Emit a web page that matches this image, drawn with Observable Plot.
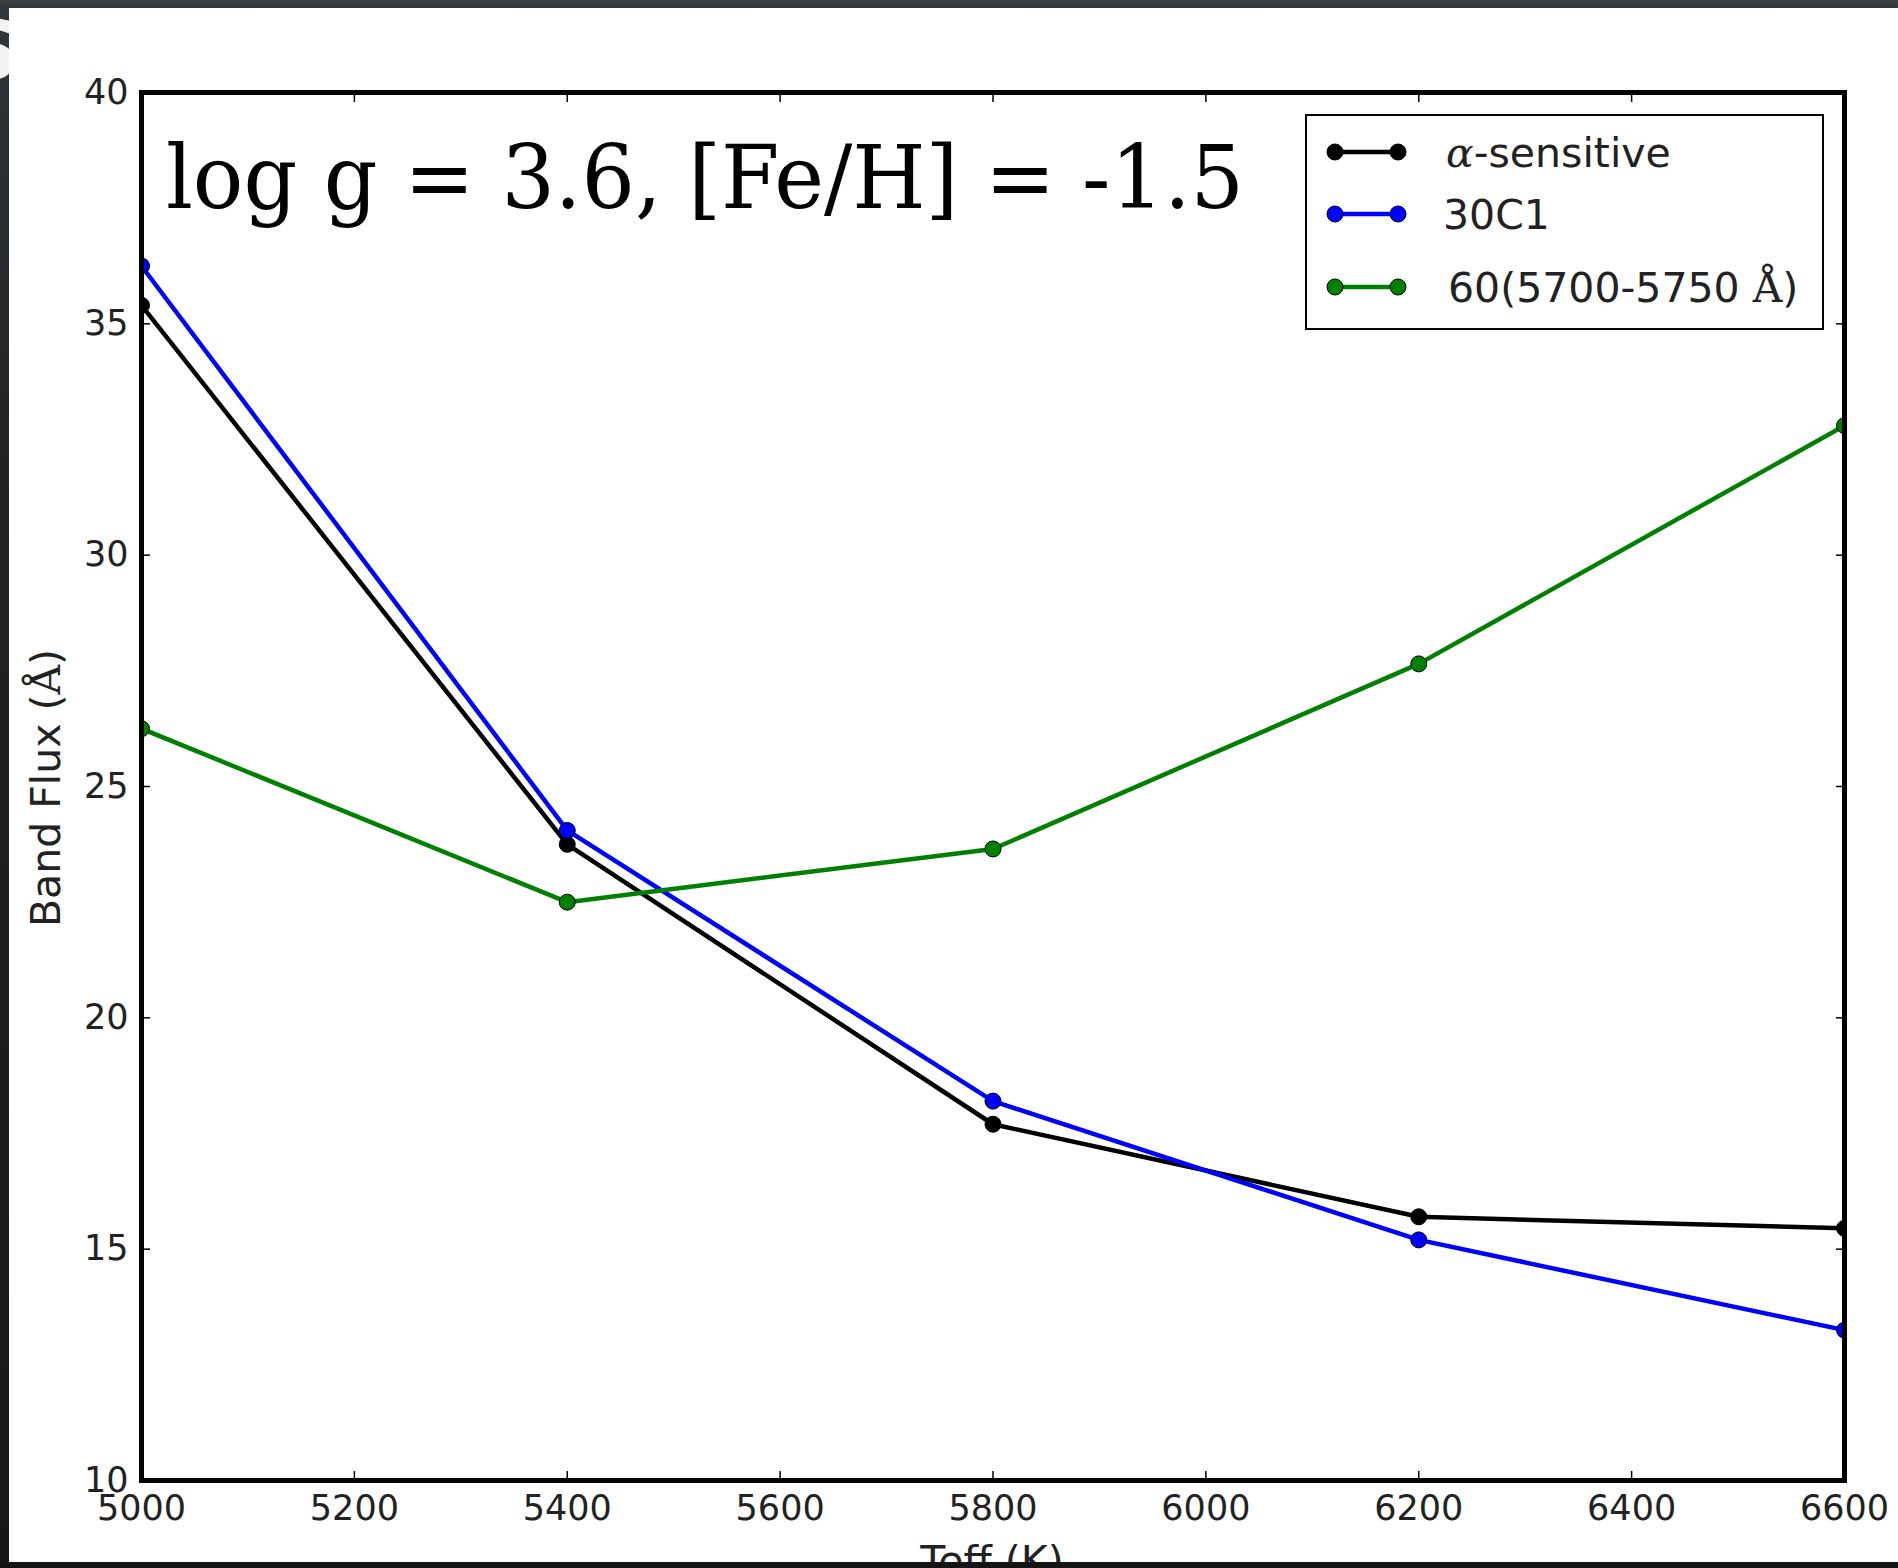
<!DOCTYPE html>
<html>
<head>
<meta charset="utf-8">
<script src="https://cdn.jsdelivr.net/npm/d3@7"></script>
<script src="https://cdn.jsdelivr.net/npm/@observablehq/plot@0.6"></script>
<style>
  html, body { margin: 0; padding: 0; }
  body {
    width: 1898px; height: 1568px; overflow: hidden; position: relative;
    background: linear-gradient(to bottom, #3c4347 0px, #30363a 8px, #202326 30%, #161718 100%);
  }
  #slide-mark { position: absolute; left: -40px; top: 10px; font: bold 82px "DejaVu Sans"; color: #f2f2f2; line-height: 1; }
  #panel { position: absolute; left: 9px; top: 8px; width: 1889px; height: 1554px; background: #ffffff; }
  #chart { position: absolute; left: 0; top: 0; }
  #bottom-band { position: absolute; left: 0; top: 1562px; width: 1898px; height: 6px; background: #141414; }
</style>
</head>
<body>
<div id="slide-mark">S</div>
<div id="panel"></div>
<div id="chart"></div>
<div id="bottom-band"></div>
<script>
// Effective temperature grid (K)
const temps = [5000, 5400, 5800, 6200, 6600];

// Band flux (Å) for each index at log g = 3.6, [Fe/H] = -1.5
const alphaSensitive = [35.4, 23.75, 17.7, 15.7, 15.45];
const band30C1 = [36.25, 24.05, 18.2, 15.2, 13.25];
const band60 = [26.25, 22.5, 23.65, 27.65, 32.8];

const seriesKeys = ["alpha", "30C1", "60"];
const seriesColors = ["#000000", "#0000ff", "#008000"];

const xTicks = [5000, 5200, 5400, 5600, 5800, 6000, 6200, 6400, 6600];
const yTicks = [10, 15, 20, 25, 30, 35, 40];

const titleText = "log g = 3.6, [Fe/H] = -1.5";

// Long-format table built from the arrays above
const seriesValues = [alphaSensitive, band30C1, band60];
const rows = seriesKeys.flatMap((key, i) =>
  temps.map((t, j) => ({series: key, temp: t, flux: seriesValues[i][j]}))
);

const axisFont = "'DejaVu Sans', sans-serif";
const plain = d => String(d);

// One line + dot pair per series so each series is layered like the original plot
const seriesMarks = seriesKeys.flatMap(key => {
  const data = rows.filter(d => d.series === key);
  return [
    Plot.line(data, {x: "temp", y: "flux", stroke: "series", strokeWidth: 4.5, clip: true}),
    Plot.dot(data, {x: "temp", y: "flux", fill: "series", stroke: "#000", strokeWidth: 1, r: 8, clip: true})
  ];
});

const chart = Plot.plot({
  width: 1898,
  height: 1568,
  marginLeft: 141,
  marginRight: 54,
  marginTop: 92,
  marginBottom: 88,
  style: {background: "transparent", fontFamily: axisFont, overflow: "hidden"},
  x: {domain: [5000, 6600]},
  y: {domain: [10, 40]},
  color: {domain: seriesKeys, range: seriesColors},
  marks: [
    ...seriesMarks,
    Plot.axisX(xTicks, {anchor: "bottom", tickSize: -9, tickPadding: 24, tickFormat: plain, fontSize: 35, fill: "#222", stroke: "#000", strokeWidth: 1.5, label: null}),
    Plot.axisX(xTicks, {anchor: "top", tickSize: -9, tickFormat: () => "", stroke: "#000", strokeWidth: 1.5, label: null}),
    Plot.axisY(yTicks, {anchor: "left", tickSize: -9, tickPadding: 22, tickFormat: plain, fontSize: 35, fill: "#222", stroke: "#000", strokeWidth: 1.5, label: null}),
    Plot.axisY(yTicks, {anchor: "right", tickSize: -9, tickFormat: () => "", stroke: "#000", strokeWidth: 1.5, label: null}),
    Plot.frame({stroke: "#000", strokeWidth: 5})
  ]
});

document.getElementById("chart").appendChild(chart);

const svg = d3.select(chart);

// Axis titles
const yLabel = svg.append("text")
  .attr("transform", "translate(60,788) rotate(-90)")
  .attr("text-anchor", "middle")
  .attr("font-family", axisFont)
  .attr("font-size", 41)
  .attr("fill", "#222");
yLabel.append("tspan").text("Band Flux (");
yLabel.append("tspan").attr("font-family", "'DejaVu Serif', serif").text("Å");
yLabel.append("tspan").text(")");

svg.append("text")
  .attr("x", 992)
  .attr("y", 1575)
  .attr("text-anchor", "middle")
  .attr("font-family", axisFont)
  .attr("font-size", 41)
  .attr("fill", "#222")
  .text("Teff (K)");

// Panel title inside the axes
svg.append("text")
  .attr("x", 166)
  .attr("y", 208)
  .attr("text-anchor", "start")
  .attr("font-family", "'DejaVu Serif Condensed', 'DejaVu Serif', serif")
  .attr("font-size", 88)
  .attr("fill", "#000")
  .attr("textLength", 1078)
  .attr("lengthAdjust", "spacingAndGlyphs")
  .text(titleText);

// Legend
const legend = svg.append("g").attr("text-anchor", "start");
legend.append("rect")
  .attr("x", 1306).attr("y", 115).attr("width", 517).attr("height", 214)
  .attr("fill", "#fff").attr("stroke", "#000").attr("stroke-width", 2);

const legendRows = [
  {key: "alpha", y: 152, x: 1446},
  {key: "30C1", y: 214, x: 1443},
  {key: "60", y: 287, x: 1448}
];

legendRows.forEach((row, i) => {
  const color = seriesColors[i];
  legend.append("line")
    .attr("x1", 1335).attr("x2", 1398).attr("y1", row.y).attr("y2", row.y)
    .attr("stroke", color).attr("stroke-width", 4.5);
  [1335, 1398].forEach(cx => {
    legend.append("circle").attr("cx", cx).attr("cy", row.y).attr("r", 8)
      .attr("fill", color).attr("stroke", "#000").attr("stroke-width", 1);
  });
  const t = legend.append("text")
    .attr("x", row.x).attr("y", row.y)
    .attr("dy", "0.36em")
    .attr("text-anchor", "start")
    .attr("font-family", axisFont)
    .attr("font-size", 41)
    .attr("fill", "#222");
  if (row.key === "alpha") {
    t.append("tspan").attr("font-family", "'DejaVu Serif', serif").attr("font-style", "italic").text("α");
    t.append("tspan").text("-sensitive");
  } else if (row.key === "30C1") {
    t.text("30C1");
  } else {
    t.append("tspan").text("60(5700-5750 ");
    t.append("tspan").attr("font-family", "'DejaVu Serif', serif").text("Å");
    t.append("tspan").text(")");
  }
});
</script>
</body>
</html>
